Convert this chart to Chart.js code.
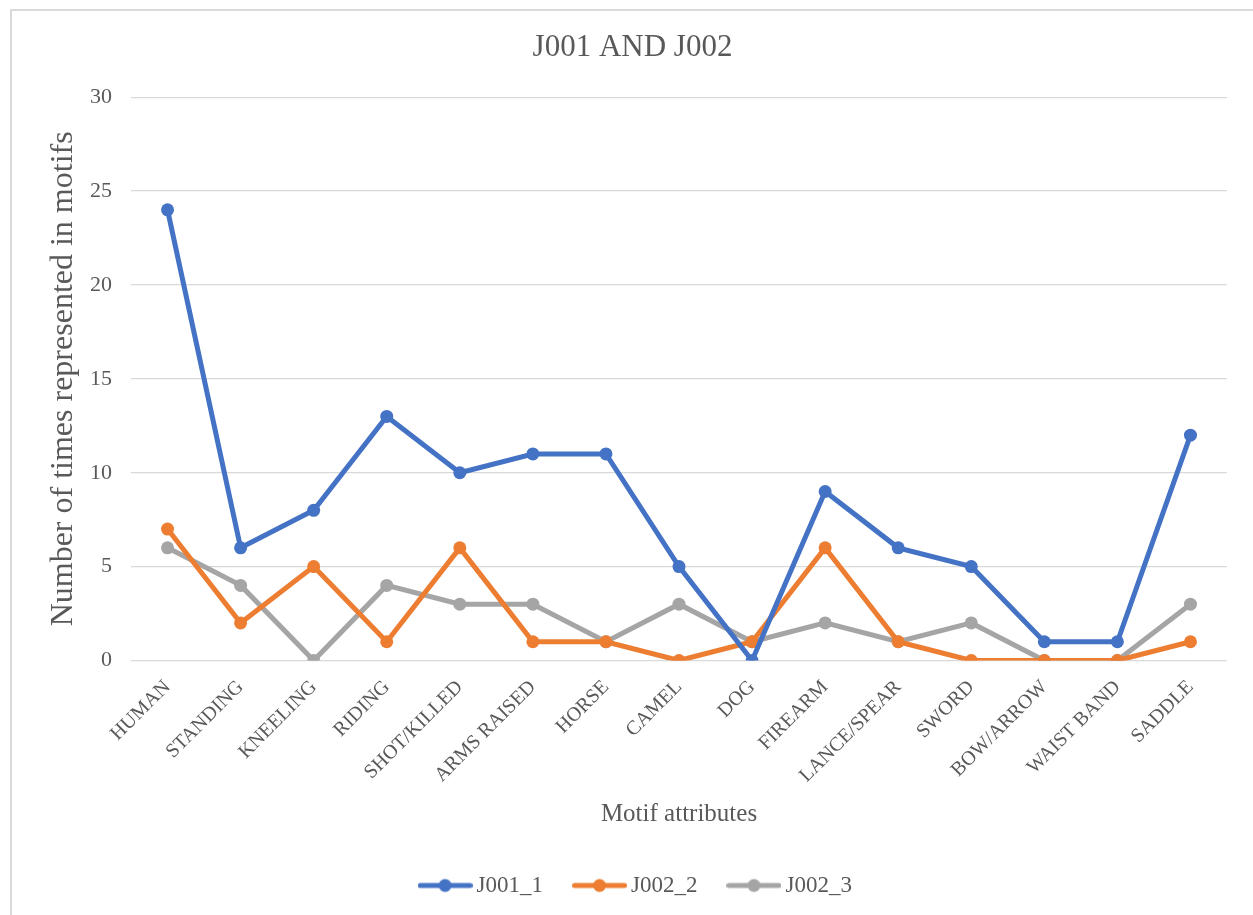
<!DOCTYPE html>
<html>
<head>
<meta charset="utf-8">
<title>J001 AND J002</title>
<script src="https://cdn.jsdelivr.net/npm/chart.js@4.4.1/dist/chart.umd.min.js"></script>
<style>
  html, body { margin: 0; padding: 0; background: #fff; overflow: hidden; }
  #wrap { position: relative; width: 1253px; height: 915px; }
  #frame {
    position: absolute; left: 10px; top: 9px; width: 1300px; height: 1000px;
    border-left: 2px solid #d9d9d9; border-top: 2px solid #d9d9d9;
    pointer-events: none;
  }
  canvas { position: absolute; left: 0; top: 0; }
</style>
</head>
<body>
<div id="wrap">
  <canvas id="myChart" width="1253" height="915"></canvas>
  <div id="frame"></div>
</div>
<script>
// motif attributes along the x axis
var attributes = ['HUMAN', 'STANDING', 'KNEELING', 'RIDING', 'SHOT/KILLED', 'ARMS RAISED',
  'HORSE', 'CAMEL', 'DOG', 'FIREARM', 'LANCE/SPEAR', 'SWORD', 'BOW/ARROW', 'WAIST BAND', 'SADDLE'];

var seriesNames = ['J001_1', 'J002_2', 'J002_3'];
var j001_1 = [24, 6, 8, 13, 10, 11, 11, 5, 0, 9, 6, 5, 1, 1, 12];
var j002_2 = [7, 2, 5, 1, 6, 1, 1, 0, 1, 6, 1, 0, 0, 0, 1];
var j002_3 = [6, 4, 0, 4, 3, 3, 1, 3, 1, 2, 1, 2, 0, 0, 3];
var seriesColors = ['#4472C4', '#ED7D31', '#A5A5A5'];

var yTicks = [0, 5, 10, 15, 20, 25, 30];

var serif = 'Liberation Serif, Times New Roman, serif';
var textColor = '#595959';

// little line-with-dot swatch for the legend
function legendSwatch(color) {
  var c = document.createElement('canvas');
  c.width = 55;
  c.height = 16;
  var g = c.getContext('2d');
  g.strokeStyle = color;
  g.lineWidth = 5;
  g.lineCap = 'round';
  g.beginPath();
  g.moveTo(2.5, 8);
  g.lineTo(52.5, 8);
  g.stroke();
  g.fillStyle = color;
  g.beginPath();
  g.arc(27.5, 8, 6.5, 0, Math.PI * 2);
  g.fill();
  return c;
}

var allSeries = [j001_1, j002_2, j002_3];
var datasets = allSeries.map(function (vals, i) {
  return {
    label: seriesNames[i],
    data: vals,
    borderColor: seriesColors[i],
    backgroundColor: seriesColors[i],
    borderWidth: 5,
    pointRadius: 6.5,
    pointBorderWidth: 0,
    pointBackgroundColor: seriesColors[i],
    pointStyle: 'circle',
    legendImage: legendSwatch(seriesColors[i]),
    tension: 0
  };
});

// nudge the legend row a bit to the right
var legendNudge = {
  id: 'legendNudge',
  afterLayout: function (chart) {
    if (chart.legend) {
      chart.legend.left += 6;
      chart.legend.right += 6;
    }
  }
};

var ctx = document.getElementById('myChart').getContext('2d');
var myLineChart = new Chart(ctx, {
  type: 'line',
  data: { labels: attributes, datasets: datasets },
  plugins: [legendNudge],
  options: {
    responsive: false,
    animation: false,
    layout: { padding: { left: 38, right: 26, top: 0, bottom: 8 } },
    plugins: {
      title: {
        display: true,
        text: 'J001 AND J002',
        color: textColor,
        font: { family: serif, size: 31, weight: 'normal' },
        padding: { top: 29, bottom: 31 }
      },
      legend: {
        position: 'bottom',
        labels: {
          color: textColor,
          font: { family: serif, size: 23 },
          usePointStyle: true,
          pointStyleWidth: 40,
          padding: 36.5,
          generateLabels: function (chart) {
            return chart.data.datasets.map(function (ds, i) {
              return {
                text: ds.label,
                fillStyle: ds.borderColor,
                strokeStyle: ds.borderColor,
                fontColor: textColor,
                lineWidth: 0,
                pointStyle: ds.legendImage,
                datasetIndex: i,
                hidden: false
              };
            });
          }
        }
      },
      tooltip: { enabled: false }
    },
    scales: {
      x: {
        offset: true,
        grid: { display: false },
        border: { display: false },
        ticks: {
          color: textColor,
          font: { family: serif, size: 20 },
          minRotation: 45,
          maxRotation: 45,
          padding: 7,
          autoSkip: false
        },
        title: {
          display: true,
          text: 'Motif attributes',
          color: textColor,
          font: { family: serif, size: 25 },
          padding: { top: 0, bottom: 8 }
        },
        afterFit: function (scale) { scale.height = 177; }
      },
      y: {
        min: 0,
        max: 30,
        grid: { color: '#d9d9d9', lineWidth: 1.3, drawTicks: false },
        border: { display: false },
        afterBuildTicks: function (scale) {
          scale.ticks = yTicks.map(function (v) { return { value: v }; });
        },
        ticks: {
          color: textColor,
          font: { family: serif, size: 22 },
          padding: 19
        },
        title: {
          display: true,
          text: 'Number of times represented in motifs',
          color: textColor,
          font: { family: serif, size: 32 },
          padding: { top: 6, bottom: 0 }
        },
        afterFit: function (scale) { scale.width = 93; }
      }
    }
  }
});
</script>
</body>
</html>
